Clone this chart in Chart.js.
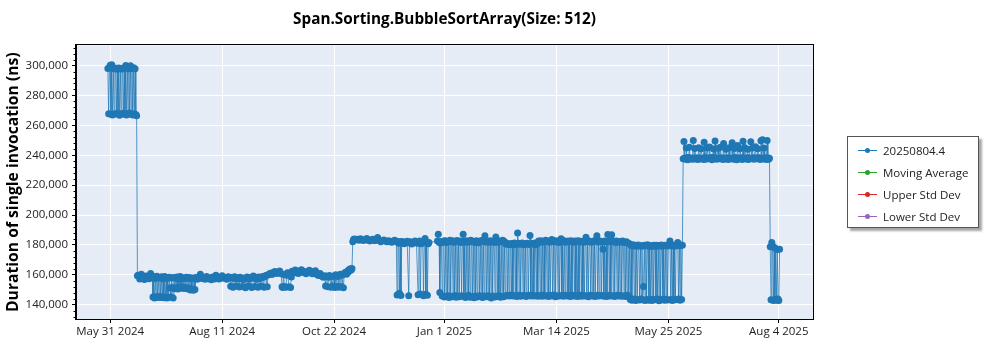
<!DOCTYPE html>
<html lang="en">
<head>
<meta charset="UTF-8" />
<title>Span.Sorting.BubbleSortArray(Size: 512)</title>
<script src="https://cdn.jsdelivr.net/npm/chart.js"></script>
<style>
  body {
    margin: 0;
    background: #fff;
    font-family: "Open Sans", sans-serif;
  }
  .wrap {
    position: relative;
    width: 1000px;
    height: 350px;
  }
  .legend {
    position: absolute;
    left: 847px;
    top: 136px;
    width: 130px;
    height: 90px;
    border: 1px solid #555;
    background: #fff;
    box-shadow: 3px 3px 2px rgba(0, 0, 0, 0.35);
  }
  .legend .item {
    position: absolute;
    left: 10px;
    height: 16px;
    display: flex;
    align-items: center;
    font-size: 11.5px;
    color: #222;
    white-space: nowrap;
  }
  .legend .swatch {
    position: relative;
    width: 19px;
    height: 16px;
    margin-right: 6px;
  }
  .legend .swatch .ln {
    position: absolute;
    left: 0;
    right: 0;
    top: 7.5px;
    height: 1px;
  }
  .legend .swatch .dot {
    position: absolute;
    left: 7px;
    top: 5.5px;
    width: 5px;
    height: 5px;
    border-radius: 50%;
  }
</style>
</head>
<body>
<div class="wrap">
  <canvas id="runChart" width="1000" height="350"></canvas>
  <div class="legend" id="legend"></div>
</div>
<script>
// benchmark runs: day offset from the first run date, duration in ns
const firstRunDate = '2024-05-31';

const runDay = [
  -1.5,-1,-0.5,0,0.5,1,1.5,2,2.5,3,3.5,4,4.5,5,5.5,6,6.5,7,7.5,8,8.5,9,9.5,10,10.5,11,11.5,12,12.5,13,13.5,14,14.5,15,15.5,16,16.5,17,
  17.5,18,19,20,21,22,23,24,25,26,27,
  27.5,28,28.5,29,29.5,30,30.5,31,31.5,32,32.5,33,33.5,34,34.5,35,35.5,36,36.5,37,37.5,38,38.5,39,39.5,40,40.5,41,
  41.5,42,42.5,43,43.5,44,44.5,45,45.5,46,46.5,47,47.5,48,48.5,49,49.5,50,50.5,51,51.5,52,52.5,53,53.5,54,54.5,
  55,56,57,58,59,60,61,62,63,64,65,66,67,68,69,70,71,72,73,74,75,76,77,
  77.5,78,79,79.5,80,81,81.5,82,83,83.5,84,85,85.5,86,87,87.5,88,89,89.5,90,91,91.5,92,93,93.5,94,95,95.5,96,97,97.5,98,99,99.5,100,101,101.5,102,103,
  104,105,106,107,108,109,110,
  110.5,111,111.5,112,113,113.5,114,115,116,116.5,
  117,118,119,120,121,122,123,124,125,126,127,128,129,130,131,132,133,134,135,136,137,138,
  138.5,139,140,140.5,141,142,142.5,143,144,144.5,145,146,146.5,147,148,148.5,149,150,150.5,151,
  152,152.5,153,153.5,154,154.5,155,155.5,
  156,156.5,157,158,159,160,161,162,163,164,165,166,167,168,169,170,171,172,173,174,175,176,177,178,179,180,181,182,183,184,
  184.5,185,185.5,186,186.5,187,187.5,188,189,190,191,192,192.5,193,194,195,196,197,198,198.5,199,199.5,200,201,201.5,202,202.5,203,203.5,204,204.5,205,
  210.5,211,211.5,212,212.5,
  213,213.5,214,214.5,215,215.5,216,216.5,217,217.5,
  218,218.5,219,219.5,220,220.5,221,221.5,222,222.5,
  223,223.5,224,224.5,225,225.5,226,226.5,227,227.5,
  228,228.5,229,229.5,230,230.5,231,231.5,232,232.5,
  233,233.5,234,234.5,235,235.5,236,236.5,237,237.5,
  238,238.5,239,239.5,240,240.5,241,241.5,242,242.5,
  243,243.5,244,244.5,245,245.5,246,246.5,247,247.5,
  248,248.5,249,249.5,250,250.5,251,251.5,252,252.5,
  253,253.5,254,
  254.5,255,255.5,256,256.5,257,257.5,258,258.5,259,
  259.5,260,260.5,261,261.5,262,262.5,263,263.5,264,
  264.5,265,265.5,266,266.5,267,267.5,268,268.5,269,
  269.5,270,270.5,271,271.5,272,272.5,273,273.5,274,
  274.5,275,
  275.5,276,276.5,277,277.5,278,278.5,279,279.5,280,
  280.5,281,281.5,282,282.5,283,283.5,284,284.5,285,
  285.5,286,286.5,287,287.5,288,288.5,289,289.5,290,
  290.5,291,291.5,292,292.5,293,293.5,294,294.5,295,
  295.5,296,296.5,297,297.5,298,298.5,299,299.5,300,
  300.5,301,301.5,302,302.5,303,303.5,304,304.5,305,
  305.5,306,306.5,307,307.5,308,308.5,309,309.5,310,
  310.5,311,311.5,312,312.5,313,313.5,314,314.5,315,
  315.5,316,316.5,317,317.5,318,318.5,319,319.5,320,
  320.5,321,321.5,322,322.5,323,323.5,324,324.5,325,
  325.5,326,326.5,327,327.5,328,328.5,329,329.5,330,
  330.5,331,331.5,332,332.5,333,333.5,334,
  334.5,335,335.5,336,336.5,337,337.5,338,338.5,339,
  339.5,340,340.5,341,341.5,342,342.5,343,343.5,344,
  344.5,345,345.5,346,346.5,347,347.5,348,348.5,349,
  349.5,350,350.5,351,351.5,352,352.5,353,353.5,354,
  354.5,355,355.5,356,356.5,357,357.5,358,358.5,359,
  359.5,360,360.5,361,361.5,362,362.5,363,363.5,364,
  364.5,365,365.5,366,366.5,367,367.5,368,
  368.5,369,369.5,370,370.5,371,371.5,372,372.5,373,
  374,374.5,375,375.5,376,376.5,377,378,378.5,379,
  379.5,380,381,381.5,382,382.5,383,384,384.5,385,
  385.5,386,387,387.5,388,388.5,389,389.5,390,391,
  391.5,392,392.5,393,394,394.5,395,395.5,396,397,
  397.5,398,398.5,399,400,400.5,401,401.5,402,403,
  403.5,404,404.5,405,406,406.5,407,407.5,408,409,
  409.5,410,410.5,411,412,412.5,413,413.5,414,415,
  415.5,416,416.5,417,418,418.5,419,419.5,420,420.5,
  421,422,422.5,423,423.5,424,
  424.5,425,425.5,426,426.5,427,427.5,428,428.5,429,429.5,430,430.5
];

const durationNs = [
  298000,267800,298500,300200,267500,300600,266900,298000,267600,297800,298200,268000,297600,267400,298300,266800,297900,267700,298100,297700,268100,298400,267300,300000,266900,298200,267800,297900,268200,299800,267500,298000,266900,298600,267600,297800,267200,266500,
  159500,159800,157200,160500,158100,156900,159300,158600,157400,160900,158200,
  145200,158900,144600,157600,145400,159100,144800,158300,145600,157900,144900,158700,145300,157400,144700,159000,145100,158200,144500,157800,145000,158500,151200,145200,157900,151600,144600,158300,
  150800,157700,151400,158600,150600,157300,151800,158900,151000,157500,152000,158100,150900,157600,151500,158400,150700,157800,151300,158200,149900,157400,150400,158000,149800,157600,150200,
  158300,157100,158800,160400,157600,158200,157000,158900,157500,158100,156800,158600,157300,159700,158000,157200,158500,159400,157700,158300,157000,158800,157900,
  152400,158200,151800,157600,158800,152600,157400,158100,151900,158500,157300,152200,158000,156900,151400,157800,158600,152700,157500,158300,151600,157900,159200,152300,158400,157100,151700,158600,157400,152500,158100,159000,151800,158700,159600,152100,159900,160400,161100,
  160200,161800,162300,160900,161500,162600,160700,
  152000,151600,160300,152300,151700,159800,161400,152100,151500,158600,
  162400,161200,163300,162000,160900,162700,163500,161600,162200,160800,161900,163100,162500,160700,161400,162800,160300,159600,161000,159200,158500,159400,
  152500,159100,152000,158400,159600,151800,158900,152600,159300,151500,160100,152200,159000,151700,160400,152300,159700,151400,160800,161600,
  160500,162400,161700,163400,162900,164100,163200,164300,
  182100,183600,184000,183500,183900,183200,184100,183400,183000,183700,184300,183100,182700,183500,183900,182800,183300,185000,183000,182200,182900,183400,182600,182100,182800,182400,181900,182600,183200,182300,
  146500,182000,181200,147800,182400,146200,181600,182300,180900,181800,182500,146000,181300,182100,180700,181900,182600,181400,146800,181100,182700,147300,180800,181900,146100,182400,184300,147000,181500,146400,180900,181700,
  182600,187200,181800,148200,181400,
  182300,145800,181900,182600,145200,182800,145600,181700,146100,182400,
  144900,183100,145700,182200,182900,145300,181800,146200,182500,145000,
  183000,145900,182100,145400,182700,181600,146000,182300,187100,145500,
  182000,144800,182800,145700,181900,146300,182600,145100,183200,182100,
  145600,182400,144700,181700,145900,182900,145200,182200,181500,146100,
  182700,145400,183000,144900,182300,145800,186200,182000,145300,182600,
  146000,181800,145500,182900,144600,182200,145900,182500,181700,145200,
  185300,182400,145700,181900,146200,182700,145000,182100,145600,183100,
  145300,182300,145900,
  180600,181200,146300,180400,145800,180900,180200,146500,181000,145900,
  180700,181300,146100,180300,145600,188000,181100,146400,180500,145700,
  180800,181400,146200,180100,146000,180900,145500,181200,180600,146300,
  180400,186300,145900,181000,146600,180700,145800,181300,180200,146100,
  180800,145700,
  182600,182000,146200,182800,145700,181900,146400,182500,145900,183100,
  182300,146000,182700,145600,181800,146300,182400,183700,145800,182100,
  146500,182900,145400,182200,182600,146100,181700,145900,182500,184100,
  146200,182300,145700,182800,146400,181900,182400,145800,182700,146000,
  182100,145500,182900,146300,182200,181800,145900,182600,146100,182300,
  145600,182800,146500,182000,182500,145700,182400,146200,181900,145800,
  182700,185200,146000,182100,145400,182600,182200,146300,181800,145900,
  182500,146100,182900,145600,182300,186100,146400,182000,145800,182700,
  182400,146200,181900,177200,145700,182600,146000,182200,145500,187000,
  182500,146300,182100,145900,186900,182800,146100,182300,145600,181700,
  182600,146400,182000,145800,182400,146200,181900,145700,182700,182200,
  146000,181600,145500,182100,146300,181400,145900,180800,
  143600,179800,143100,179300,180100,143800,179600,142900,179200,143500,
  180000,179400,143200,179700,143900,179100,143400,152200,179800,142800,
  179500,143600,180200,179300,143100,179700,143700,179000,142900,179600,
  143500,179900,179200,143300,179800,143800,179400,142700,179700,143400,
  180000,179100,143600,179500,143000,179800,143700,179300,143200,179600,
  180100,182600,143500,179400,142900,179900,143600,179200,143300,179700,
  180300,181700,143800,179500,143100,180000,143500,179800,
  237600,249200,238100,237400,244800,238300,237000,238500,245300,237700,
  238200,237300,249800,238000,244500,237500,238400,237100,245100,238200,
  237600,244300,238000,237200,248700,238500,237400,244900,238100,237700,
  245600,238300,237000,238600,244200,237800,249500,238200,237300,244700,
  238000,237600,245400,238400,237200,247900,238100,237500,244100,238300,
  237100,245000,238000,237700,248300,238200,237400,244600,238500,237000,
  246500,238100,237600,244400,238300,237200,249400,238000,245200,237500,
  238400,244000,237100,238200,249000,237800,244800,238300,237400,245700,
  238100,237600,244300,238500,237200,249700,238000,250300,237500,244900,
  238300,237100,249900,238200,237400,238000,
  178800,143400,181600,179200,142900,178500,143600,177600,143100,176900,143800,142800,177200
];

const seriesNames = ['20250804.4', 'Moving Average', 'Upper Std Dev', 'Lower Std Dev'];
const seriesColors = ['#1f77b4', '#2ca02c', '#d62728', '#9467bd'];

const xTickDates = ['2024-05-31', '2024-08-11', '2024-10-22', '2025-01-01', '2025-03-14', '2025-05-25', '2025-08-04'];
const xRange = ['2024-05-09', '2025-08-26'];
const yTicks = [140000, 160000, 180000, 200000, 220000, 240000, 260000, 280000, 300000];
const yRange = [130500, 313500];
const yMinorStep = 4000;

const DAY_MS = 86400000;
const MONTHS = ['Jan','Feb','Mar','Apr','May','Jun','Jul','Aug','Sep','Oct','Nov','Dec'];
const FONT = '"Open Sans", sans-serif';

function fmtDate(ms) {
  const d = new Date(ms);
  return MONTHS[d.getUTCMonth()] + ' ' + d.getUTCDate() + ' ' + d.getUTCFullYear();
}

const t0 = Date.parse(firstRunDate);
const runs = runDay.map((day, i) => ({ x: t0 + day * DAY_MS, y: durationNs[i] }));

// plot background, frame on all four sides and the small y ticks between labels
const plotFrame = {
  id: 'plotFrame',
  beforeDraw(chart) {
    const { ctx, chartArea: a } = chart;
    ctx.save();
    ctx.fillStyle = '#e5ecf6';
    ctx.fillRect(a.left, a.top, a.right - a.left, a.bottom - a.top);
    ctx.restore();
  },
  afterDraw(chart) {
    const { ctx, chartArea: a } = chart;
    const y = chart.scales.y;
    ctx.save();
    ctx.strokeStyle = '#000';
    ctx.lineWidth = 1;
    ctx.strokeRect(Math.round(a.left) - 0.5, Math.round(a.top) - 0.5,
      Math.round(a.right - a.left) + 1, Math.round(a.bottom - a.top) + 1);
    ctx.beginPath();
    for (let v = Math.ceil(yRange[0] / yMinorStep) * yMinorStep; v <= yRange[1]; v += yMinorStep) {
      if (v % 20000 === 0) continue;
      const py = Math.round(y.getPixelForValue(v)) + 0.5;
      ctx.moveTo(a.left - 2.5, py);
      ctx.lineTo(a.left, py);
    }
    ctx.stroke();
    ctx.restore();
  }
};

const datasets = seriesNames.map((name, i) => ({
  label: name,
  data: i === 0 ? runs : [],
  borderColor: i === 0 ? 'rgba(31,119,180,0.75)' : seriesColors[i],
  borderWidth: 1,
  pointRadius: 3.5,
  pointBorderWidth: 0,
  pointBackgroundColor: seriesColors[i],
  pointHoverRadius: 3.5,
  tension: 0,
  fill: false
}));

new Chart(document.getElementById('runChart'), {
  type: 'line',
  data: { datasets },
  plugins: [plotFrame],
  options: {
    responsive: false,
    animation: false,
    parsing: false,
    normalized: true,
    layout: { padding: { left: 3, right: 187, top: 0, bottom: 0 } },
    plugins: {
      legend: { display: false },
      tooltip: { enabled: false },
      title: {
        display: true,
        fullSize: false,
        text: 'Span.Sorting.BubbleSortArray(Size: 512)',
        color: '#000',
        font: { family: FONT, size: 15.3, weight: 'bold', lineHeight: 1.2 },
        padding: { top: 10, bottom: 17 }
      }
    },
    scales: {
      x: {
        type: 'linear',
        min: Date.parse(xRange[0]),
        max: Date.parse(xRange[1]),
        afterBuildTicks(scale) {
          scale.ticks = xTickDates.map(d => ({ value: Date.parse(d) }));
        },
        afterFit(scale) { scale.height = 31; },
        ticks: {
          callback: v => fmtDate(v),
          color: '#222',
          font: { family: FONT, size: 11.5 },
          padding: 2,
          maxRotation: 0,
          autoSkip: false
        },
        grid: { color: '#fff', lineWidth: 1, tickLength: 4, tickColor: '#000' },
        border: { color: '#000', width: 1 }
      },
      y: {
        min: yRange[0],
        max: yRange[1],
        afterBuildTicks(scale) {
          scale.ticks = yTicks.map(v => ({ value: v }));
        },
        afterFit(scale) { scale.width = 73; },
        ticks: {
          callback: v => v.toLocaleString('en-US'),
          color: '#222',
          font: { family: FONT, size: 11.5 },
          padding: 4
        },
        title: {
          display: true,
          text: 'Duration of single invocation (ns)',
          color: '#000',
          font: { family: FONT, size: 15.7, weight: 'bold', lineHeight: 1.2 },
          padding: { top: 1, bottom: 2 }
        },
        grid: { color: '#fff', lineWidth: 1, tickLength: 4, tickColor: '#000' },
        border: { color: '#000', width: 1 }
      }
    }
  }
});

// legend box on the right
const legendEl = document.getElementById('legend');
const rowTops = [5, 27, 49, 71];
seriesNames.forEach((name, i) => {
  const item = document.createElement('div');
  item.className = 'item';
  item.style.top = rowTops[i] + 'px';
  item.innerHTML = '<span class="swatch"><span class="ln" style="background:' + seriesColors[i] +
    '"></span><span class="dot" style="background:' + seriesColors[i] + '"></span></span>' + name;
  legendEl.appendChild(item);
});
</script>
</body>
</html>
